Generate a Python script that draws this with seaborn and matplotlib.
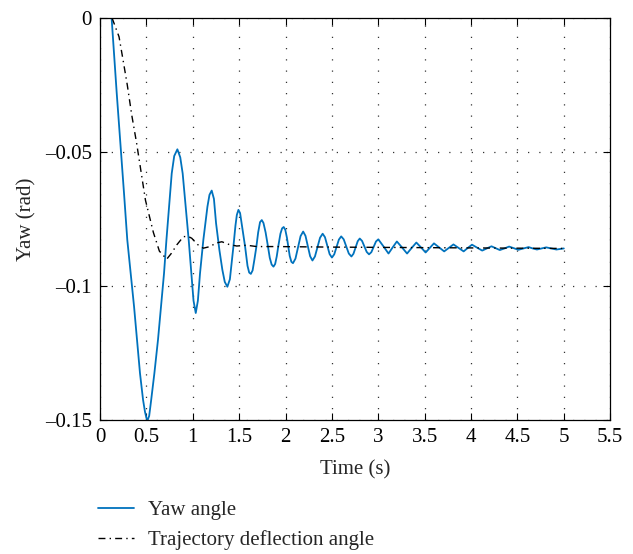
import matplotlib
matplotlib.use("Agg")
import matplotlib.pyplot as plt
import seaborn as sns

# yaw angle readings (s, rad)
yaw_time = [0.125, 0.18, 0.227, 0.26, 0.294, 0.331, 0.367, 0.399, 0.431, 0.464,
            0.485, 0.50, 0.512, 0.53, 0.55, 0.586, 0.625, 0.658, 0.69, 0.716,
            0.745, 0.773, 0.80, 0.834, 0.865, 0.891, 0.924, 0.956, 0.985, 1.008,
            1.032, 1.055, 1.078, 1.114, 1.158, 1.18, 1.204, 1.228, 1.251, 1.287,
            1.319, 1.345, 1.373, 1.40, 1.42, 1.438, 1.46, 1.475, 1.492, 1.51,
            1.53, 1.564, 1.59, 1.608, 1.626, 1.645, 1.665, 1.685, 1.705, 1.725,
            1.744, 1.762, 1.785, 1.807, 1.83, 1.85, 1.87, 1.888, 1.905, 1.925,
            1.945, 1.963, 1.98, 1.997, 2.015, 2.03, 2.045, 2.063, 2.08,
            2.107, 2.135, 2.162, 2.19, 2.215, 2.24, 2.265, 2.29,
            2.317, 2.345, 2.372, 2.40, 2.425, 2.45, 2.475, 2.50,
            2.525, 2.55, 2.575, 2.60, 2.627, 2.655, 2.682, 2.71,
            2.732, 2.755, 2.778, 2.80, 2.825, 2.85, 2.875, 2.90,
            2.925, 2.95, 2.975, 3.00,
            3.055, 3.11, 3.155, 3.20, 3.255, 3.31, 3.36, 3.41, 3.46, 3.51,
            3.555, 3.60, 3.655, 3.71, 3.76, 3.81, 3.865, 3.92, 3.965, 4.01,
            4.065, 4.12, 4.17, 4.22, 4.265, 4.31, 4.36, 4.41, 4.46, 4.51,
            4.565, 4.62, 4.665, 4.71, 4.76, 4.81, 4.865, 4.92, 5.0]
yaw_angle = [0.0, -0.028, -0.05, -0.066, -0.0828, -0.0953, -0.1077, -0.1201, -0.1326, -0.1425,
             -0.1470, -0.1492, -0.1502, -0.1485, -0.1430, -0.1326, -0.1201, -0.1077, -0.0953, -0.0828,
             -0.0704, -0.0580, -0.0515, -0.0490, -0.0520, -0.0580, -0.0704, -0.0828, -0.0953, -0.1055,
             -0.1101, -0.1055, -0.0953, -0.0828, -0.0704, -0.0660, -0.0644, -0.0675, -0.0766, -0.0866,
             -0.0940, -0.0985, -0.1003, -0.0975, -0.0910, -0.0853, -0.0775, -0.0735, -0.0716, -0.0728,
             -0.0775, -0.0853, -0.0925, -0.0950, -0.0955, -0.0942, -0.0900, -0.0855, -0.0800, -0.0762,
             -0.0754, -0.0765, -0.0800, -0.0845, -0.0895, -0.0920, -0.0928, -0.0918, -0.0890, -0.0845,
             -0.0805, -0.0785, -0.0780, -0.0790, -0.0820, -0.0855, -0.0888, -0.0910, -0.0915,
             -0.0898, -0.0856, -0.0814, -0.0797, -0.0813, -0.0851, -0.0889, -0.0905,
             -0.0890, -0.0855, -0.0820, -0.0805, -0.0818, -0.0850, -0.0881, -0.0894,
             -0.0882, -0.0855, -0.0827, -0.0815, -0.0826, -0.0853, -0.0879, -0.0890,
             -0.0880, -0.0857, -0.0833, -0.0823, -0.0832, -0.0853, -0.0873, -0.0882,
             -0.0874, -0.0854, -0.0834, -0.0826,
             -0.0852, -0.0879, -0.0856, -0.0834, -0.0856, -0.0879, -0.0858, -0.0838, -0.0856, -0.0875,
             -0.0858, -0.0841, -0.0856, -0.0871, -0.0858, -0.0845, -0.0858, -0.0871, -0.0858, -0.0846,
             -0.0857, -0.0868, -0.0860, -0.0852, -0.0859, -0.0866, -0.0860, -0.0853, -0.0859, -0.0865,
             -0.0860, -0.0855, -0.0860, -0.0864, -0.0860, -0.0856, -0.0860, -0.0864, -0.0860]

# trajectory deflection angle readings
traj_time = [0.13, 0.205, 0.245, 0.294, 0.342, 0.395, 0.49, 0.575, 0.64, 0.719,
             0.77, 0.827, 0.899, 0.95, 0.989, 1.05, 1.114, 1.186, 1.25, 1.313,
             1.39, 1.474, 1.58, 1.69, 1.905, 2.5, 3.0, 4.0, 5.0]
traj_angle = [0.0, -0.007, -0.015, -0.025, -0.0362, -0.0468, -0.068, -0.080, -0.087, -0.090,
              -0.0878, -0.0847, -0.0816, -0.0815, -0.0822, -0.0845, -0.0859, -0.0853, -0.0840, -0.0835,
              -0.0845, -0.0851, -0.0848, -0.0853, -0.0853, -0.0855, -0.0856, -0.0858, -0.0860]

x_ticks = [0, 0.5, 1, 1.5, 2, 2.5, 3, 3.5, 4, 4.5, 5, 5.5]
y_ticks = [0, -0.05, -0.1, -0.15]

sns.set_style("ticks")
plt.rcParams['font.family'] = ['Liberation Serif', 'DejaVu Serif']
plt.rcParams['font.size'] = 15

fig = plt.figure(figsize=(6.33, 5.54), dpi=100)
ax = fig.add_axes([0.158, 0.242, 0.806, 0.7255])

sns.lineplot(x=yaw_time, y=yaw_angle, ax=ax, color="#0072BD", linewidth=1.3,
             sort=False, label="Yaw angle")
sns.lineplot(x=traj_time, y=traj_angle, ax=ax, color="black", linewidth=1.0,
             linestyle=(0, (5, 3, 1, 3)), sort=False,
             label="Trajectory deflection angle")

ax.set_xlim(0, 5.5)
ax.set_ylim(-0.15, 0)
ax.set_xticks(x_ticks)
ax.set_yticks(y_ticks)
ax.set_xticklabels(["%g" % v for v in x_ticks])
ax.set_yticklabels(["%g" % v if v == 0 else "\u2013%g" % abs(v) for v in y_ticks])
ax.tick_params(direction="in", top=True, right=True, length=5, width=0.8,
               labelsize=15, colors="black", pad=6)
for s in ax.spines.values():
    s.set_color("black")
    s.set_linewidth(0.9)
ax.grid(True, linestyle=(0, (1, 8)), linewidth=0.9, color="#333333")

ax.set_xlabel("Time (s)", fontsize=15, labelpad=9)
ax.set_ylabel("Yaw (rad)", fontsize=15, labelpad=6)

handles, labels = ax.get_legend_handles_labels()
ax.get_legend().remove()
fig.legend(handles, labels, loc="upper left", bbox_to_anchor=(0.155, 0.097),
           frameon=False, fontsize=15, handlelength=1.7, handletextpad=0.7,
           labelspacing=0.5, borderpad=0, borderaxespad=0)

fig.savefig("out.png", dpi=100)
